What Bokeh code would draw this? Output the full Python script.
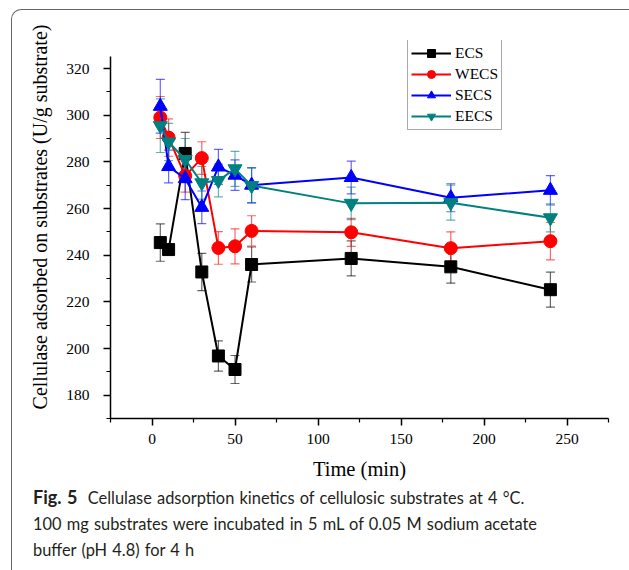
from bokeh.plotting import figure
from bokeh.models import (Whisker, ColumnDataSource, FixedTicker, Legend, LegendItem,
                          Div, TeeHead)
from bokeh.layouts import column
from bokeh.embed import file_html
from bokeh.resources import INLINE

# ---- data ----
time = [5, 10, 20, 30, 40, 50, 60, 120, 180, 240]

ecs = [245.4, 242.4, 283.6, 232.8, 196.8, 191.0, 236.0, 238.6, 235.0, 225.2]
ecs_err = [8.0, 2.0, 9.0, 8.0, 6.5, 6.0, 7.5, 7.5, 7.0, 7.5]

wecs = [299.0, 290.4, 274.0, 281.6, 243.1, 243.8, 250.4, 249.8, 243.0, 246.0]
wecs_err = [9.0, 8.0, 7.0, 7.0, 7.0, 7.5, 6.5, 6.0, 7.0, 8.0]

secs = [303.8, 278.0, 272.8, 260.5, 277.8, 274.3, 270.0, 273.3, 264.6, 267.8]
secs_err = [11.5, 7.0, 9.0, 7.0, 7.5, 6.5, 7.5, 7.0, 6.0, 6.3]

eecs = [295.5, 288.5, 281.0, 271.0, 272.0, 277.0, 269.8, 262.2, 262.5, 256.0]
eecs_err = [11.5, 8.0, 9.0, 7.0, 7.0, 7.5, 7.5, 7.0, 7.5, 6.0]

names = ["ECS", "WECS", "SECS", "EECS"]
x_major = [0, 50, 100, 150, 200, 250]
x_minor = [-25, 25, 75, 125, 175, 225, 275]
y_major = [180, 200, 220, 240, 260, 280, 300, 320]
y_minor = [170, 190, 210, 230, 250, 270, 290, 310]

SERIF = "Liberation Serif"

p = figure(width=600, height=474, x_range=(-25, 275), y_range=(170, 332),
           output_backend="svg", toolbar_location=None,
           min_border_left=98, min_border_right=4, min_border_top=30,
           min_border_bottom=66)
p.grid.visible = False
p.outline_line_color = None
p.background_fill_color = None
p.border_fill_color = None

p.xaxis.ticker = FixedTicker(ticks=x_major, minor_ticks=x_minor)
p.yaxis.ticker = FixedTicker(ticks=y_major, minor_ticks=y_minor)
p.yaxis.bounds = (170, 325)
p.xaxis.axis_label = "Time (min)"
# leading no-break spaces nudge the rotated title upward, as in the reference
p.yaxis.axis_label = "\u00a0\u00a0\u00a0\u00a0\u00a0Cellulase adsorbed on substrates (U/g substrate)"
for ax in (p.xaxis, p.yaxis):
    ax.axis_line_width = 1.5
    ax.axis_line_color = "black"
    ax.major_tick_out = 7
    ax.major_tick_in = 0
    ax.minor_tick_out = 4
    ax.minor_tick_in = 0
    ax.major_tick_line_width = 1.5
    ax.minor_tick_line_width = 1.2
    ax.major_tick_line_color = "black"
    ax.minor_tick_line_color = "black"
    ax.major_label_text_font = SERIF
    ax.major_label_text_font_size = "15.5px"
    ax.major_label_text_color = "black"
    ax.axis_label_text_font = SERIF
    ax.axis_label_text_font_style = "normal"
    ax.axis_label_text_color = "black"
p.xaxis.axis_label_text_font_size = "20.5px"
p.yaxis.axis_label_text_font_size = "20px"
p.xaxis.major_label_standoff = 8
p.yaxis.major_label_standoff = 14
p.xaxis.axis_label_standoff = 11
p.yaxis.axis_label_standoff = 12

series = [
    ("ECS", ecs, ecs_err, "black", "square", 12),
    ("WECS", wecs, wecs_err, "#ff0000", "circle", 13),
    ("SECS", secs, secs_err, "#0000ff", "triangle", 14),
    ("EECS", eecs, eecs_err, "#008080", "inverted_triangle", 14),
]

items = []
for name, vals, errs, color, marker, size in series:
    src = ColumnDataSource(dict(
        x=time, y=vals,
        lo=[v - e for v, e in zip(vals, errs)],
        hi=[v + e for v, e in zip(vals, errs)],
    ))
    w = Whisker(source=src, base="x", upper="hi", lower="lo",
                line_color=color, line_alpha=0.6, line_width=1.2,
                upper_head=TeeHead(size=9, line_color=color, line_alpha=0.6, line_width=1.2),
                lower_head=TeeHead(size=9, line_color=color, line_alpha=0.6, line_width=1.2))
    p.add_layout(w)
    r1 = p.line("x", "y", source=src, line_color=color, line_width=2)
    r2 = p.scatter("x", "y", source=src, marker=marker, size=size,
                   fill_color=color, line_color=color)
    items.append(LegendItem(label=name, renderers=[r1, r2]))

legend = Legend(items=items, location=(297, 288),
                border_line_color="#555555", border_line_width=1.5,
                background_fill_color="white", background_fill_alpha=1,
                label_text_font=SERIF, label_text_font_size="15.5px",
                label_text_color="black",
                glyph_width=40, glyph_height=20, label_height=20,
                spacing=1, padding=3, margin=0, label_standoff=4)
p.add_layout(legend)

cap = Div(
    text=("<b style='font-size:18px'>Fig.&nbsp;5</b>&nbsp;&nbsp;Cellulase adsorption kinetics of cellulosic substrates at 4 °C.<br>"
          "100 mg substrates were incubated in 5 mL of 0.05 M sodium acetate<br>"
          "buffer (pH 4.8) for 4 h"),
    width=600, margin=(0, 0, 0, 0),
    styles={"font-family": "Lato", "font-size": "16.4px", "line-height": "26px",
            "word-spacing": "1px",
            "color": "#231f20", "padding-left": "21px", "white-space": "nowrap"},
)

layout = column(p, cap, margin=(9, 0, 0, 11),
                styles={"border-top": "1.5px solid #666666",
                        "border-left": "1.5px solid #666666",
                        "border-top-left-radius": "10px",
                        "width": "618px", "height": "561px",
                        "overflow": "hidden"})

open("out.html", "w").write(file_html(layout, INLINE))
